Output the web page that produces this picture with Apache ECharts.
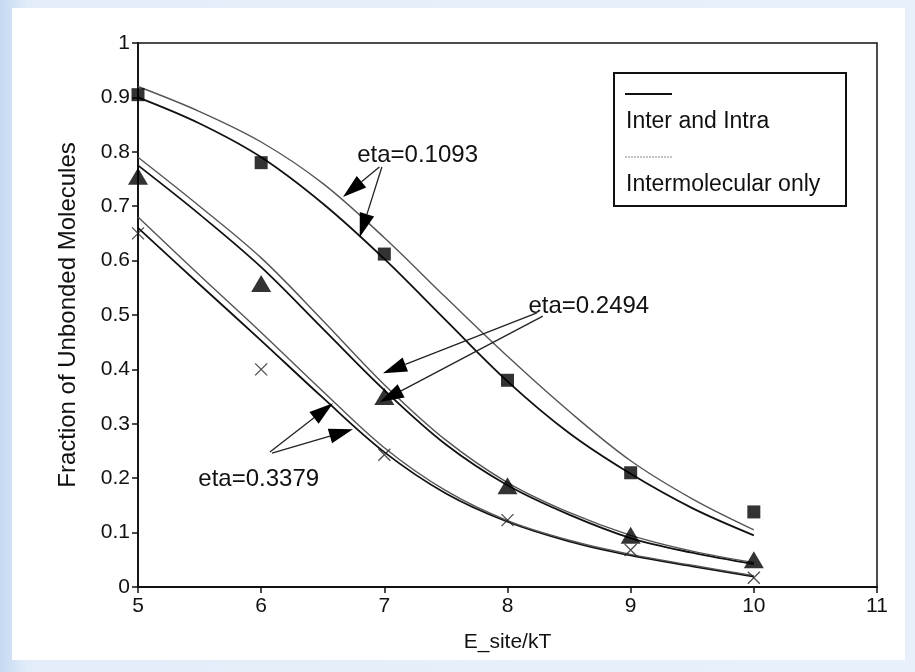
<!DOCTYPE html>
<html><head><meta charset="utf-8">
<script src="https://cdn.jsdelivr.net/npm/echarts@6/dist/echarts.min.js"></script>
<style>html,body{margin:0;padding:0;background:#dce9f8;}#c{width:915px;height:672px;}</style>
</head><body><div id="c"></div><script>
// ---- data ----
const curveX = [5, 5.5, 6, 6.5, 7, 7.5, 8, 8.5, 9, 9.5, 10];
// eta = 0.1093
const eta1Both  = [0.900, 0.852, 0.790, 0.705, 0.603, 0.490, 0.378, 0.283, 0.208, 0.145, 0.095];
const eta1Inter = [0.920, 0.874, 0.818, 0.742, 0.642, 0.532, 0.424, 0.323, 0.232, 0.162, 0.105];
// eta = 0.2494
const eta2Both  = [0.775, 0.685, 0.588, 0.475, 0.362, 0.262, 0.187, 0.133, 0.090, 0.063, 0.042];
const eta2Inter = [0.790, 0.700, 0.605, 0.490, 0.372, 0.270, 0.192, 0.137, 0.095, 0.066, 0.045];
// eta = 0.3379
const eta3Both  = [0.660, 0.556, 0.453, 0.348, 0.248, 0.172, 0.120, 0.084, 0.058, 0.038, 0.019];
const eta3Inter = [0.680, 0.573, 0.468, 0.360, 0.256, 0.177, 0.122, 0.086, 0.060, 0.040, 0.021];
// simulation points
const pointX = [5, 6, 7, 8, 9, 10];
const squares   = [0.905, 0.780, 0.612, 0.380, 0.210, 0.138];
const triangles = [0.755, 0.558, 0.350, 0.186, 0.095, 0.050];
const crosses   = [0.650, 0.400, 0.243, 0.123, 0.068, 0.017];
// axis ticks
const xTicks = [5, 6, 7, 8, 9, 10, 11];
const yTicks = [0, 0.1, 0.2, 0.3, 0.4, 0.5, 0.6, 0.7, 0.8, 0.9, 1];
// annotations (data coordinates)
const annoLabels = ['eta=0.1093', 'eta=0.2494', 'eta=0.3379'];
const annoTextPos = [[7.27, 0.794], [8.66, 0.515], [5.98, 0.197]];
const annoArrows = [
  [[6.96, 0.772], [6.664, 0.717]],
  [[6.98, 0.772], [6.80, 0.643]],
  [[8.239, 0.504], [6.989, 0.393]],
  [[8.287, 0.498], [6.964, 0.340]],
  [[6.071, 0.248], [6.583, 0.338]],
  [[6.088, 0.246], [6.745, 0.290]]
];
const legendNames = ['Inter and Intra', 'Intermolecular only'];

const FONT = 'Liberation Sans, Arial, Helvetica, sans-serif';
const pair = (xs, ys) => xs.map((x, i) => [x, ys[i]]);
const solid = {color: '#111', width: 1.8};
const light = {color: '#555', width: 1.4};
function lineSeries(ys, style) {
  return {type: 'line', data: pair(curveX, ys), smooth: 0.35, showSymbol: false,
    lineStyle: style, itemStyle: {color: style.color}, z: 3, silent: true};
}
const crossPath = 'path://M0,0L10,10M10,0L0,10';

const chart = echarts.init(document.getElementById('c'));
chart.setOption({
  animation: false,
  backgroundColor: {type: 'linear', x: 0, y: 0, x2: 1, y2: 0,
    colorStops: [{offset: 0, color: '#c4d9f3'}, {offset: 0.03, color: '#e3edf9'}, {offset: 1, color: '#e8f1fb'}]},
  grid: {left: 138, right: 38, top: 43, bottom: 85, show: true, borderColor: '#111', borderWidth: 1.5, backgroundColor: 'transparent'},
  xAxis: {type: 'value', min: xTicks[0], max: xTicks[xTicks.length - 1], interval: 1,
    name: 'E_site/kT', nameLocation: 'middle', nameGap: 45,
    nameTextStyle: {fontFamily: FONT, fontSize: 21, color: '#111'},
    axisLine: {lineStyle: {color: '#111', width: 1.8}},
    axisTick: {inside: false, length: 6, lineStyle: {color: '#111', width: 1.5}},
    axisLabel: {fontFamily: FONT, fontSize: 21, color: '#111', margin: 9},
    splitLine: {show: false}},
  yAxis: {type: 'value', min: yTicks[0], max: yTicks[yTicks.length - 1], interval: 0.1,
    name: 'Fraction of Unbonded Molecules', nameLocation: 'middle', nameGap: 58,
    nameTextStyle: {fontFamily: FONT, fontSize: 24, color: '#111'},
    axisLine: {lineStyle: {color: '#111', width: 1.8}},
    axisTick: {inside: false, length: 6, lineStyle: {color: '#111', width: 1.5}},
    axisLabel: {fontFamily: FONT, fontSize: 21, color: '#111', margin: 8},
    splitLine: {show: false}},
  graphic: [
    {id: 'panel', type: 'rect', left: 12, top: 8, shape: {width: 893, height: 652}, style: {fill: '#fff'}, z: -10, silent: true},
    {id: 'lgbox', type: 'rect', left: 613, top: 72, shape: {width: 232, height: 133}, style: {fill: '#fff', stroke: '#111', lineWidth: 2}, z: 10},
    {id: 'lgl1', type: 'line', shape: {x1: 625, y1: 94, x2: 672, y2: 94}, style: {stroke: '#111', lineWidth: 2.2}, z: 11},
    {id: 'lgt1', type: 'text', left: 626, top: 110, style: {text: legendNames[0], font: '23px ' + FONT, fill: '#111'}, z: 11},
    {id: 'lgl2', type: 'line', shape: {x1: 625, y1: 157, x2: 672, y2: 157}, style: {stroke: '#888', lineWidth: 1.2, lineDash: [2, 1]}, z: 11},
    {id: 'lgt2', type: 'text', left: 626, top: 173, style: {text: legendNames[1], font: '23px ' + FONT, fill: '#111'}, z: 11}
  ],
  series: [
    lineSeries(eta1Both, solid), lineSeries(eta1Inter, light),
    lineSeries(eta2Both, solid), lineSeries(eta2Inter, light),
    lineSeries(eta3Both, solid), lineSeries(eta3Inter, light),
    {type: 'scatter', data: pair(pointX, squares), symbol: 'rect', symbolSize: 13, itemStyle: {color: '#000'}, z: 5},
    {type: 'scatter', data: pair(pointX, triangles), symbol: 'triangle', symbolSize: [20, 17], itemStyle: {color: '#000'}, z: 5},
    {type: 'scatter', data: pair(pointX, crosses), symbol: crossPath, symbolSize: 12,
      itemStyle: {color: 'none', borderColor: '#222', borderWidth: 1.3}, z: 5}
  ]
});

// annotations through the chart's coordinate system
const extra = [];
annoLabels.forEach((t, i) => {
  const p = chart.convertToPixel({gridIndex: 0}, annoTextPos[i]);
  extra.push({id: 'at' + i, type: 'text', x: p[0], y: p[1], style: {text: t, font: '24px ' + FONT, fill: '#111', align: 'center', verticalAlign: 'middle'}, z: 12});
});
annoArrows.forEach((a, i) => {
  const s = chart.convertToPixel({gridIndex: 0}, a[0]);
  const e = chart.convertToPixel({gridIndex: 0}, a[1]);
  const dx = e[0] - s[0], dy = e[1] - s[1], L = Math.hypot(dx, dy);
  const ux = dx / L, uy = dy / L, hl = 24, hw = 7.5;
  const bx = e[0] - ux * hl, by = e[1] - uy * hl;
  extra.push({id: 'al' + i, type: 'line', shape: {x1: s[0], y1: s[1], x2: bx, y2: by}, style: {stroke: '#222', lineWidth: 1.3}, z: 12});
  extra.push({id: 'ah' + i, type: 'polygon', shape: {points: [[e[0], e[1]], [bx - uy * hw, by + ux * hw], [bx + uy * hw, by - ux * hw]]}, style: {fill: '#000'}, z: 12});
});
chart.setOption({graphic: extra});
</script></body></html>
